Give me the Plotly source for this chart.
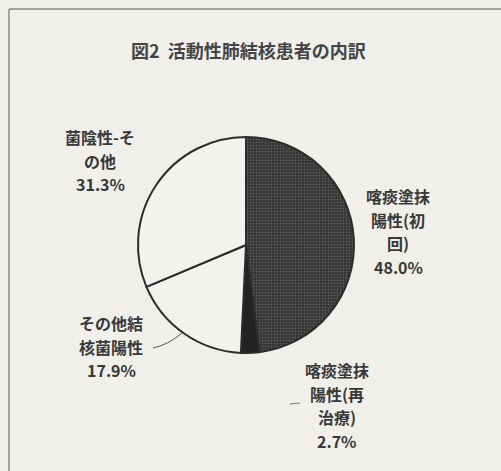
import plotly.graph_objects as go

# Breakdown of active pulmonary tuberculosis patients (%)
categories = ["喀痰塗抹陽性(初回)", "喀痰塗抹陽性(再治療)", "その他結核菌陽性", "菌陰性-その他"]
values = [48.0, 2.7, 17.9, 31.3]
# Wrapped label text as printed next to each slice
label_lines = [
    ["喀痰塗抹", "陽性(初", "回)"],
    ["喀痰塗抹", "陽性(再", "治療)"],
    ["その他結", "核菌陽性"],
    ["菌陰性-そ", "の他"],
]
title_text = "図2  活動性肺結核患者の内訳"

W, H = 501, 471
BG = "#f1efea"
INK = "#383838"
FONT = "Noto Sans CJK JP"


def px(x):
    return x / W


def py(y):
    return 1 - y / H


# Pie placement (pixel centre and radius)
cx, cy, r = 246, 245, 108

fig = go.Figure(
    go.Pie(
        labels=categories,
        values=values,
        sort=False,
        direction="clockwise",
        rotation=0,
        textinfo="none",
        hoverinfo="label+percent",
        showlegend=False,
        marker=dict(
            colors=["#363636", "#222222", "#f4f2ee", "#f4f2ee"],
            line=dict(color="#2c2c2c", width=2),
            pattern=dict(
                shape=[".", "", "", ""],
                fgcolor="#5c5c5c",
                bgcolor="#333333",
                size=3,
                solidity=0.3,
            ),
        ),
        domain=dict(x=[px(cx - r), px(cx + r)], y=[py(cy + r), py(cy - r)]),
    )
)

# Label blocks: x centre and y of the first line, in pixels
label_pos = [(398, 196), (337, 370), (111, 323), (100, 137)]
LINE_STEP = 23.5
annotations = []
for lines, v, (lx, ly) in zip(label_lines, values, label_pos):
    for i, line in enumerate(lines + [f"{v:.1f}%"]):
        annotations.append(
            dict(
                x=px(lx), y=py(ly + i * LINE_STEP), xref="paper", yref="paper",
                text=line, showarrow=False,
                xanchor="center", yanchor="middle",
                font=dict(family=FONT, size=16, color=INK, weight="bold"),
            )
        )

annotations.append(
    dict(
        x=px(248), y=py(50), xref="paper", yref="paper",
        text=title_text, showarrow=False,
        xanchor="center", yanchor="middle",
        font=dict(family=FONT, size=18, color="#444444", weight="bold"),
    )
)

shapes = [
    # frame lines along the left and top of the panel
    dict(type="line", xref="paper", yref="paper",
         x0=px(9), y0=py(9), x1=px(9), y1=0,
         line=dict(color="#8a8a8a", width=1.5)),
    dict(type="line", xref="paper", yref="paper",
         x0=px(9), y0=py(9), x1=1, y1=py(9),
         line=dict(color="#8a8a8a", width=1.5)),
    # leader for その他結核菌陽性
    dict(type="path", xref="paper", yref="paper",
         path=f"M {px(153)},{py(348)} Q {px(168)},{py(345)} {px(182)},{py(333)}",
         line=dict(color="#555555", width=1)),
    # leader for 喀痰塗抹陽性(再治療)
    dict(type="line", xref="paper", yref="paper",
         x0=px(290), y0=py(404), x1=px(300), y1=py(403),
         line=dict(color="#777777", width=1)),
]

fig.update_layout(
    width=W, height=H,
    margin=dict(l=0, r=0, t=0, b=0),
    paper_bgcolor=BG, plot_bgcolor=BG,
    annotations=annotations,
    shapes=shapes,
)

fig.write_html("out.html")
